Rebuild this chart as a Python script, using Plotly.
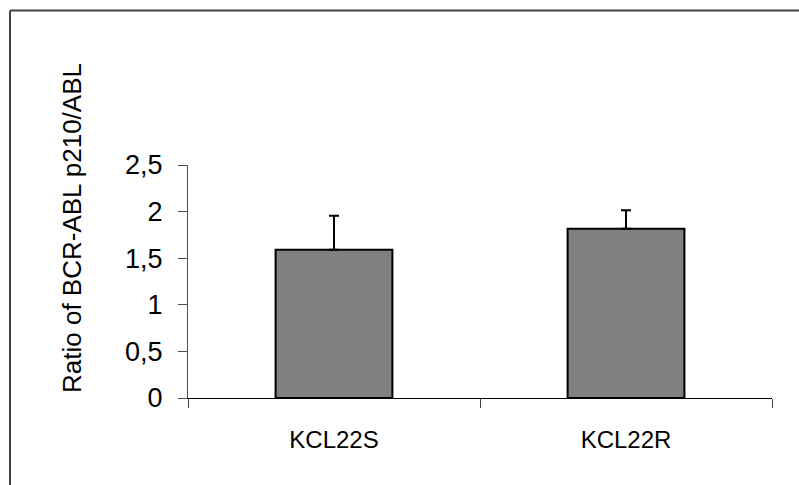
import plotly.graph_objects as go

categories = ["KCL22S", "KCL22R"]
values = [1.59, 1.815]
errors_up = [0.365, 0.20]
errors_down = [0, 0]
y_ticks = [0, 0.5, 1, 1.5, 2, 2.5]
y_tick_labels = ["0", "0,5", "1", "1,5", "2", "2,5"]
y_title = "Ratio of BCR-ABL p210/ABL"

W, H = 799, 485
ML, MR, MT, MB = 188, 27, 165, 87
PW = W - ML - MR
PH = H - MT - MB

def px(x):
    return (x - ML) / PW

def py(y):
    return (H - MB - y) / PH

FONT = "Liberation Sans, Arial, sans-serif"

fig = go.Figure()
fig.add_trace(go.Bar(
    x=categories, y=values, width=0.4,
    marker=dict(color="#808080", line=dict(color="black", width=2)),
    error_y=dict(type="data", symmetric=False, array=errors_up, arrayminus=errors_down,
                 color="black", thickness=2, width=5),
    hoverinfo="skip",
))

fig.update_layout(
    width=W, height=H,
    margin=dict(l=ML, r=MR, t=MT, b=MB),
    paper_bgcolor="white", plot_bgcolor="white",
    showlegend=False,
    font=dict(family=FONT, color="black", size=25),
    xaxis=dict(
        showline=True, linecolor="black", linewidth=1,
        ticks="outside", ticklen=9, tickcolor="#404040", tickwidth=1,
        tickson="boundaries", showgrid=False,
        tickfont=dict(size=24), ticklabelstandoff=20,
    ),
    yaxis=dict(
        range=[0, 2.5], tickvals=y_ticks, ticktext=y_tick_labels,
        showline=True, linecolor="#505050", linewidth=1,
        ticks="outside", ticklen=9, tickcolor="#505050", tickwidth=1,
        showgrid=False, zeroline=False,
        tickfont=dict(size=27), ticklabelstandoff=10,
    ),
    annotations=[dict(
        text=y_title, textangle=-90, xref="paper", yref="paper",
        x=px(72), y=py(228), xanchor="center", yanchor="middle",
        showarrow=False, font=dict(size=26, family=FONT, color="black"),
    )],
    shapes=[
        dict(type="line", xref="paper", yref="paper", x0=px(10), x1=px(W + 5),
             y0=py(10.5), y1=py(10.5), line=dict(color="#404040", width=2)),
        dict(type="line", xref="paper", yref="paper", x0=px(10), x1=px(10),
             y0=py(10.5), y1=py(H + 5), line=dict(color="#404040", width=2)),
    ],
)

fig.write_html(
    "out.html",
    config={"displayModeBar": False, "staticPlot": True},
    post_script="document.body.style.margin='0';document.body.style.overflow='hidden';",
)
